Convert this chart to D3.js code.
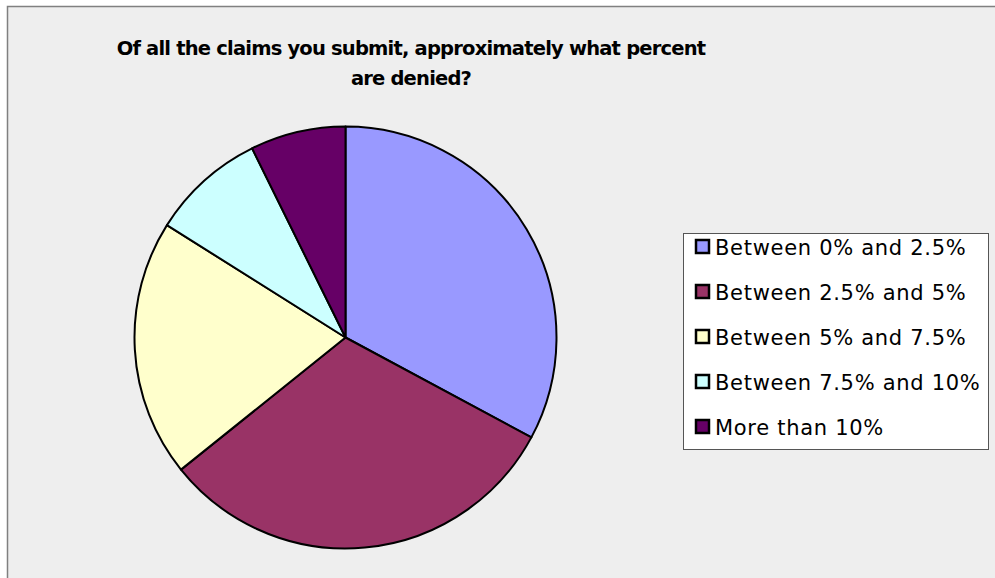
<!DOCTYPE html>
<html>
<head>
<meta charset="utf-8">
<script src="https://cdn.jsdelivr.net/npm/d3@7"></script>
<style>
  html, body { margin: 0; padding: 0; background: #fff; }
  svg text { font-family: Tahoma, "DejaVu Sans", Verdana, sans-serif; }
</style>
</head>
<body>
<svg width="995" height="578"></svg>
<script>
const categories = ['Between 0% and 2.5%', 'Between 2.5% and 5%', 'Between 5% and 7.5%', 'Between 7.5% and 10%', 'More than 10%']
const values = [45, 43, 27, 12, 10]
const colors = ['#9999ff', '#993366', '#ffffcc', '#ccffff', '#660066']
const titleLines = ['Of all the claims you submit, approximately what percent', 'are denied?']

const width = 995
    , height = 578
    , cx = 345.5
    , cy = 337.5
    , radius = 211
    , svg = d3.select('svg')

// chart area
svg.append('rect')
    .attr('x', 7.5).attr('y', 6.5)
    .attr('width', width).attr('height', height)
    .attr('fill', '#eeeeee')
    .attr('stroke', '#808080')
    .attr('stroke-width', 1.5)

svg.append('text')
    .attr('x', 411)
    .attr('y', 55)
    .attr('text-anchor', 'middle')
    .attr('font-size', 19.5)
    .attr('letter-spacing', -0.8)
    .attr('font-weight', 'bold')
    .selectAll('tspan')
    .data(titleLines)
    .join('tspan')
    .attr('x', 411)
    .attr('dy', (d, i) => i ? 30 : 0)
    .text(d => d)

const pie = d3.pie().sort(null).value(d => d)
const arc = d3.arc().innerRadius(0).outerRadius(radius)

svg.append('g')
    .attr('transform', `translate(${[cx, cy]})`)
    .selectAll('path')
    .data(pie(values))
    .join('path')
    .attr('d', arc)
    .attr('fill', (d, i) => colors[i])
    .attr('stroke', '#000')
    .attr('stroke-width', 2)
    .attr('stroke-linejoin', 'round')

// legend
const legend = svg.append('g')
legend.append('rect')
    .attr('x', 683.5).attr('y', 233.5)
    .attr('width', 305).attr('height', 216)
    .attr('fill', '#fff')
    .attr('stroke', '#555')
    .attr('stroke-width', 1)

const rows = legend.selectAll('g.row')
    .data(categories)
    .join('g')
    .attr('class', 'row')
    .attr('transform', (d, i) => `translate(${[696, 240 + i * 45]})`)

rows.append('rect')
    .attr('x', 0).attr('y', 0)
    .attr('width', 13).attr('height', 13)
    .attr('fill', (d, i) => colors[i])
    .attr('stroke', '#000')
    .attr('stroke-width', 2.5)

rows.append('text')
    .attr('x', 19)
    .attr('y', 14.5)
    .attr('font-size', 21)
    .attr('letter-spacing', 0.7)
    .attr('fill', '#000')
    .text(d => d)
</script>
</body>
</html>
